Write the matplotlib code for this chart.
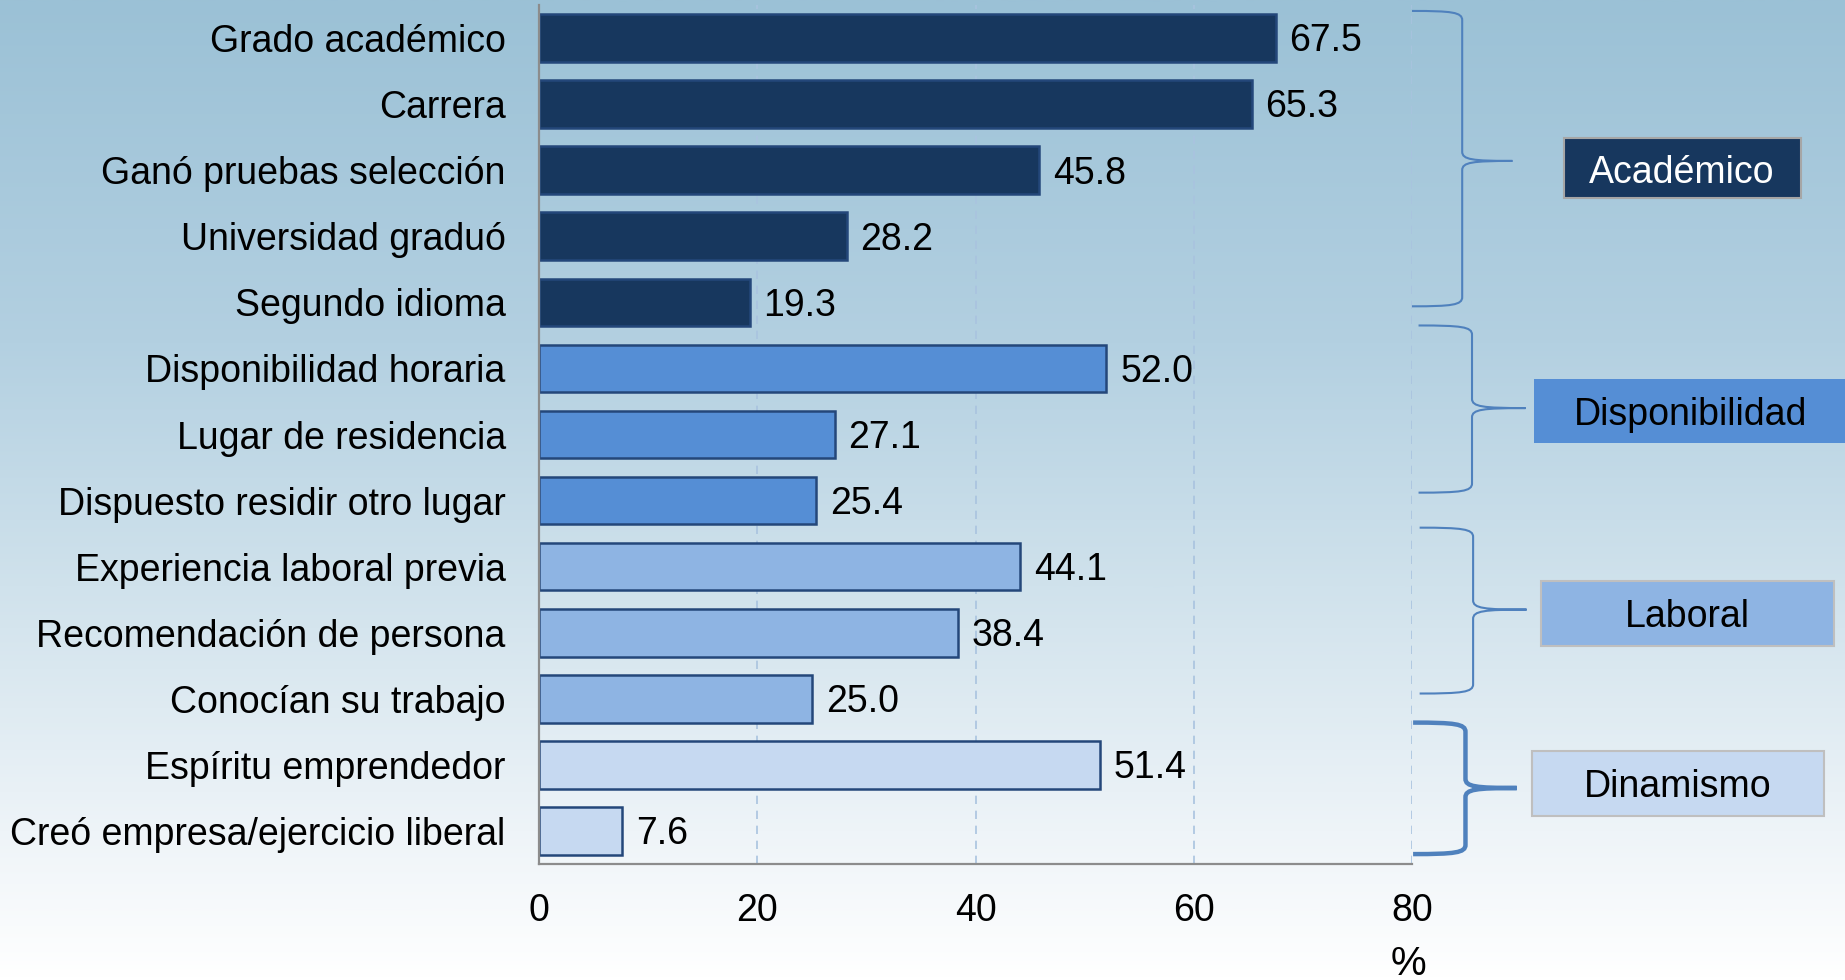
import numpy as np
import matplotlib
matplotlib.use("Agg")
import matplotlib.pyplot as plt
from matplotlib.path import Path
from matplotlib.patches import PathPatch, Rectangle
from matplotlib.colors import LinearSegmentedColormap

plt.rcParams['font.family'] = ['Liberation Sans', 'DejaVu Sans']

# ---- data ----
categories = [
    "Grado académico", "Carrera", "Ganó pruebas selección", "Universidad graduó",
    "Segundo idioma", "Disponibilidad horaria", "Lugar de residencia",
    "Dispuesto residir otro lugar", "Experiencia laboral previa",
    "Recomendación de persona", "Conocían su trabajo", "Espíritu emprendedor",
    "Creó empresa/ejercicio liberal",
]
values = [67.5, 65.3, 45.8, 28.2, 19.3, 52.0, 27.1, 25.4, 44.1, 38.4, 25.0, 51.4, 7.6]
group_names = ["Académico", "Disponibilidad", "Laboral", "Dinamismo"]
group_sizes = [5, 3, 3, 2]
x_ticks = [0, 20, 40, 60, 80]
x_label = "%"

# ---- style ----
group_colors = ["#17375E", "#558ED5", "#8EB4E3", "#C6D9F1"]
group_text_colors = ["white", "black", "black", "black"]
edge_color = "#24477A"
FS = 27
W, H = 1845, 980

fig = plt.figure(figsize=(W / 100, H / 100), dpi=100)

# background gradient
bg = fig.add_axes([0, 0, 1, 1], zorder=-10)
cmap = LinearSegmentedColormap.from_list(
    "bg", [(0.0, "#9BC1D6"), (0.35, "#B3D0E1"), (0.6, "#D0E2EC"),
           (0.85, "#EEF4F8"), (1.0, "#FFFFFF")])
grad = np.linspace(0, 1, 512).reshape(-1, 1)
bg.imshow(grad, aspect="auto", cmap=cmap, extent=[0, 1, 0, 1], origin="upper")
bg.set_axis_off()

ax = fig.add_axes([539 / W, 1 - 864 / H, (1412 - 539) / W, (864 - 5) / H])
ax.set_facecolor("none")

bar_colors = []
for c, n in zip(group_colors, group_sizes):
    bar_colors += [c] * n

y = np.arange(len(categories))
ax.barh(y, values, height=0.72, color=bar_colors, edgecolor=edge_color,
        linewidth=1.8, zorder=3)
for yi, v in zip(y, values):
    ax.annotate(f"{v:.1f}", (v, yi), xytext=(10, -9.6), textcoords="offset points",
                ha="left", va="baseline", fontsize=FS, color="black", zorder=4)

ax.set_ylim(len(categories) - 0.5, -0.5)
ax.set_xlim(0, 80)
ax.set_yticks(y)
ax.set_yticklabels(categories, fontsize=FS)
ax.set_xticks(x_ticks)
ax.set_xticklabels([str(t) for t in x_ticks], fontsize=FS)
ax.tick_params(axis="y", length=0, pad=24)
ax.tick_params(axis="x", length=0, pad=21)
ax.xaxis.grid(True, color="#A9C3DF", linestyle=(0, (5, 4)), linewidth=1.2, zorder=0)
ax.set_axisbelow(True)
for s in ["top", "right"]:
    ax.spines[s].set_visible(False)
for s in ["left", "bottom"]:
    ax.spines[s].set_color("#8C8C8C")
    ax.spines[s].set_linewidth(1.6)
    ax.spines[s].set_zorder(5)

fig.text(1408 / W, 1 - 975 / H, x_label, ha="center", va="baseline", fontsize=FS + 2)

# ---- braces (annotation positions in data units) ----
braces = [
    dict(x0=80.0, x1=84.6, x2=89.2, yt=-0.41, ym=1.86, yb=4.06, lw=1.5),
    dict(x0=80.6, x1=85.5, x2=90.4, yt=4.35, ym=5.60, yb=6.88, lw=1.5),
    dict(x0=80.7, x1=85.6, x2=90.5, yt=7.41, ym=8.65, yb=9.92, lw=1.5),
    dict(x0=80.1, x1=84.9, x2=89.6, yt=10.36, ym=11.35, yb=12.35, lw=3.2),
]
for b in braces:
    x0, x1, x2 = b["x0"], b["x1"], b["x2"]
    yt, ym, yb = b["yt"], b["ym"], b["yb"]
    r = 0.14
    verts = [
        (x0, yt),
        (x0 + 0.8 * (x1 - x0), yt), (x1, yt + 0.02), (x1, yt + r),
        (x1, ym - r),
        (x1, ym - 0.02), (x1 + 0.2 * (x2 - x1), ym), (x2, ym),
        (x1 + 0.2 * (x2 - x1), ym), (x1, ym + 0.02), (x1, ym + r),
        (x1, yb - r),
        (x1, yb - 0.02), (x0 + 0.8 * (x1 - x0), yb), (x0, yb),
    ]
    codes = [Path.MOVETO,
             Path.CURVE4, Path.CURVE4, Path.CURVE4,
             Path.LINETO,
             Path.CURVE4, Path.CURVE4, Path.CURVE4,
             Path.CURVE4, Path.CURVE4, Path.CURVE4,
             Path.LINETO,
             Path.CURVE4, Path.CURVE4, Path.CURVE4]
    ax.add_patch(PathPatch(Path(verts, codes), facecolor="none",
                           edgecolor="#4F81BD", linewidth=b["lw"],
                           clip_on=False, zorder=6))

# ---- group label boxes (pixel positions; ty = text baseline) ----
boxes = [
    dict(x=1564, y=138, w=237, h=60, edge="#A6A6A6", tx=1682, ty=183),
    dict(x=1534, y=379, w=320, h=64, edge="none", tx=1691, ty=425),
    dict(x=1541, y=581, w=293, h=65, edge="#BFBFBF", tx=1687, ty=627),
    dict(x=1532, y=751, w=292, h=65, edge="#BFBFBF", tx=1678, ty=797),
]
for name, col, tcol, b in zip(group_names, group_colors, group_text_colors, boxes):
    fig.patches.append(Rectangle((b["x"] / W, 1 - (b["y"] + b["h"]) / H),
                                 b["w"] / W, b["h"] / H, transform=fig.transFigure,
                                 facecolor=col, edgecolor=b["edge"],
                                 linewidth=1.5, zorder=5))
    fig.text(b["tx"] / W, 1 - b["ty"] / H, name, ha="center", va="baseline",
             fontsize=FS, color=tcol, zorder=6)

fig.savefig("out.png", dpi=100)
